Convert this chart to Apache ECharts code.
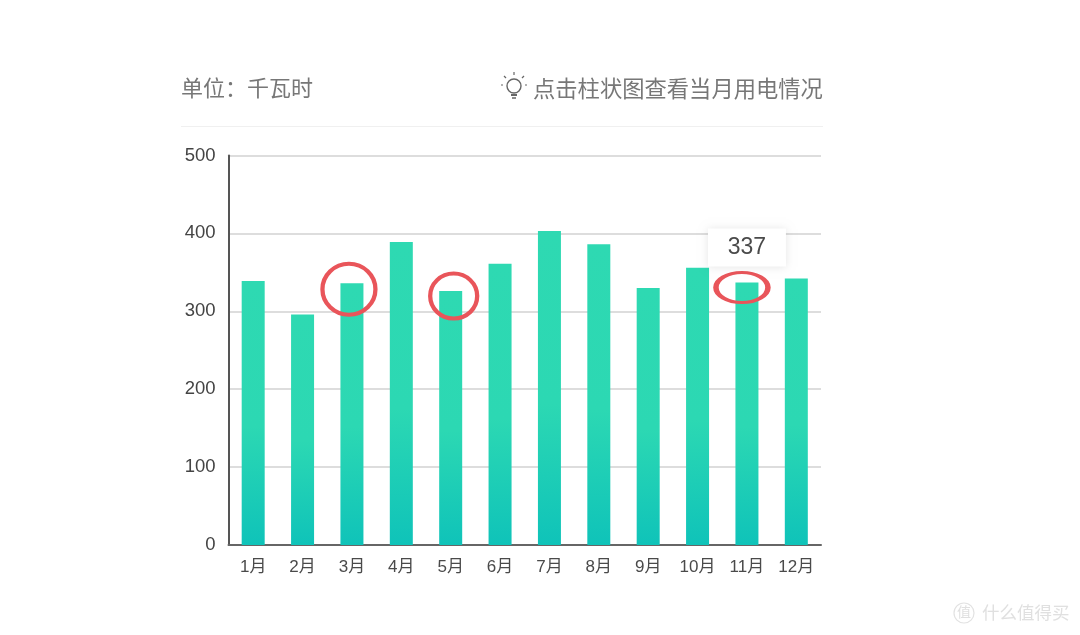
<!DOCTYPE html>
<html><head><meta charset="utf-8">
<style>html,body{margin:0;padding:0;background:#fff}#c{width:1080px;height:635px}</style>
<script src="https://cdn.jsdelivr.net/npm/echarts@6/dist/echarts.min.js"></script>
</head><body><div id="c"></div>
<script>
const categories = ['1月','2月','3月','4月','5月','6月','7月','8月','9月','10月','11月','12月'];
const values = [339,296,336,389,326,361,403,386,330,356,337,342];
const yTicks = {min:0,max:500,interval:100};
const unitText = '单位：千瓦时';
const hintText = '点击柱状图查看当月用电情况';
const watermark = '什么值得买';
const F = '"Liberation Sans","Noto Sans CJK SC",sans-serif';
const CJK = '"Noto Sans CJK SC",sans-serif';
const RED = '#e9555a';
function ring(idx, val, w, h, dx, dy){
  return {coord:[categories[idx],val],symbol:'circle',symbolSize:[w,h],symbolOffset:[dx,dy],
    itemStyle:{color:'transparent',borderColor:RED,borderWidth:4.2},label:{show:false}};
}
const chart = echarts.init(document.getElementById('c'),null,{renderer:'canvas'});
const bulb = '#666';
chart.setOption({
  animation:false,
  backgroundColor:'#fff',
  grid:{left:228.5,right:259,top:155.5,bottom:90},
  xAxis:{type:'category',data:categories,
    axisLine:{lineStyle:{color:'#666',width:2}},axisTick:{show:false},
    axisLabel:{color:'#4a4a4a',fontSize:17,fontFamily:F,margin:14}},
  yAxis:{type:'value',min:yTicks.min,max:yTicks.max,interval:yTicks.interval,
    axisLine:{show:true,lineStyle:{color:'#555',width:2}},axisTick:{show:false},
    splitLine:{lineStyle:{color:'#d2d2d2',width:1.5}},
    axisLabel:{color:'#444',fontSize:18.5,fontFamily:F,margin:13,padding:[3,0,0,0]}},
  series:[{type:'bar',data:values,barWidth:23,
    itemStyle:{color:new echarts.graphic.LinearGradient(0,0,0,1,[
      {offset:0,color:'#2ed9b2'},{offset:0.55,color:'#2cd8b3'},{offset:1,color:'#0fc3b9'}]),borderRadius:0},
    markPoint:{silent:true,animation:false,data:[
      ring(2,336,53,51,-3,6),
      ring(4,326,47,45,3,5),
      ring(10,337,52,30,-5,5),
      {coord:[categories[10],337],symbol:'rect',symbolSize:[78,38],symbolOffset:[0,-35],
       itemStyle:{color:'#fff',shadowBlur:8,shadowColor:'rgba(0,0,0,0.10)',shadowOffsetY:1},
       value:337,
       label:{show:true,position:'inside',formatter:'337',color:'#4a4a4a',fontSize:23,fontFamily:F}}
    ]}
  }],
  graphic:[
    {type:'text',left:181,top:77,style:{text:unitText,fill:'#777',fontSize:22,fontFamily:CJK}},
    {type:'text',left:533,top:77,style:{text:hintText,fill:'#777',fontSize:22.3,fontFamily:CJK}},
    {type:'line',shape:{x1:181,y1:126.5,x2:823,y2:126.5},style:{stroke:'#f0f0f0',lineWidth:1}},
    {type:'group',children:[
      {type:'circle',shape:{cx:514,cy:86,r:7},style:{fill:'none',stroke:bulb,lineWidth:1.4}},
      {type:'line',shape:{x1:511,y1:95,x2:517,y2:95},style:{stroke:bulb,lineWidth:2}},
      {type:'line',shape:{x1:512,y1:98,x2:516,y2:98},style:{stroke:bulb,lineWidth:1.5}},
      {type:'line',shape:{x1:514,y1:72,x2:514,y2:75},style:{stroke:bulb,lineWidth:1.2}},
      {type:'line',shape:{x1:504,y1:76,x2:506,y2:78},style:{stroke:bulb,lineWidth:1.2}},
      {type:'line',shape:{x1:524,y1:76,x2:522,y2:78},style:{stroke:bulb,lineWidth:1.2}},
      {type:'line',shape:{x1:501,y1:85,x2:503,y2:85},style:{stroke:bulb,lineWidth:1.2}},
      {type:'line',shape:{x1:525,y1:85,x2:527,y2:85},style:{stroke:bulb,lineWidth:1.2}}
    ]},
    {type:'circle',shape:{cx:964,cy:613,r:10},style:{fill:'none',stroke:'#e2e2e2',lineWidth:1.2}},
    {type:'text',left:957,top:605,style:{text:'值',fill:'#e0e0e0',fontSize:14,fontFamily:CJK}},
    {type:'text',left:982,top:604,style:{text:watermark,fill:'#e0e0e0',fontSize:17.5,fontFamily:CJK}}
  ]
});
</script></body></html>
